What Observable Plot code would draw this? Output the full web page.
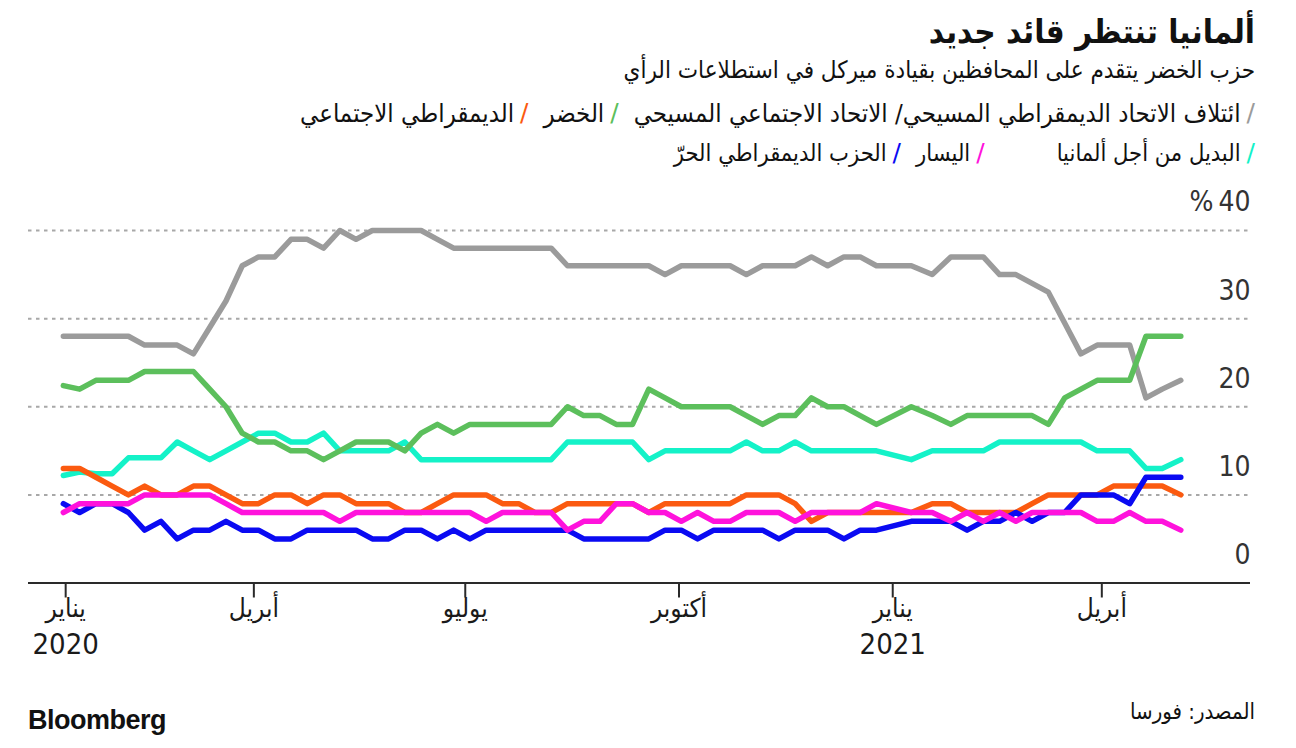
<!DOCTYPE html>
<html lang="ar">
<head>
<meta charset="utf-8">
<script src="https://cdn.jsdelivr.net/npm/d3@7"></script>
<script src="https://cdn.jsdelivr.net/npm/@observablehq/plot@0.6"></script>
<style>
html,body{margin:0;padding:0;background:#fff;}
body{width:1296px;height:748px;position:relative;overflow:hidden;font-family:"DejaVu Sans Condensed","DejaVu Sans",sans-serif;color:#111;}
.abs{position:absolute;}
#title{right:41px;top:12px;height:40px;line-height:40px;font-size:33px;font-weight:bold;direction:rtl;white-space:nowrap;}
#subtitle{right:41px;top:55px;height:30px;line-height:30px;font-size:24px;direction:rtl;white-space:nowrap;}
.legend{right:41px;height:30px;line-height:30px;direction:rtl;display:flex;align-items:center;white-space:nowrap;}
#legend1{font-size:25.5px;}
#legend2{font-size:23.5px;}
.item{display:flex;align-items:center;margin-left:15px;}
.slash{font-size:25px;margin-left:6px;font-family:"DejaVu Sans",sans-serif;}
#chart{left:0;top:180px;}
#source{right:41px;top:699px;height:26px;line-height:26px;font-size:22px;direction:rtl;white-space:nowrap;}
#brand{left:28px;top:705px;font-family:"Liberation Sans Narrow","Liberation Sans",Arial,sans-serif;font-weight:bold;font-size:27px;letter-spacing:-0.5px;}
</style>
</head>
<body>
<div id="title" class="abs">ألمانيا تنتظر قائد جديد</div>
<div id="subtitle" class="abs">حزب الخضر يتقدم على المحافظين بقيادة ميركل في استطلاعات الرأي</div>
<div id="legend1" class="abs legend" style="top:98px"></div>
<div id="legend2" class="abs legend" style="top:138px"></div>
<div id="chart" class="abs"></div>
<div id="source" class="abs">المصدر: فورسا</div>
<div id="brand" class="abs">Bloomberg</div>
<script>
// Poll dates (Forsa)
const dates = [
 "2020-01-10","2020-01-17","2020-01-24","2020-01-31","2020-02-07","2020-02-14","2020-02-21","2020-02-28",
 "2020-03-06","2020-03-13","2020-03-20","2020-03-27","2020-04-03","2020-04-10","2020-04-17","2020-04-24",
 "2020-05-01","2020-05-08","2020-05-15","2020-05-22","2020-05-29","2020-06-05","2020-06-12","2020-06-19",
 "2020-06-26","2020-07-03","2020-07-10","2020-07-17","2020-07-24","2020-07-31","2020-08-07","2020-08-14",
 "2020-08-21","2020-08-28","2020-09-04","2020-09-11","2020-09-18","2020-09-25","2020-10-02","2020-10-09",
 "2020-10-16","2020-10-23","2020-10-30","2020-11-06","2020-11-13","2020-11-20","2020-11-27","2020-12-04",
 "2020-12-11","2020-12-18","2020-12-25",
 "2021-01-09","2021-01-18","2021-01-26","2021-02-02","2021-02-09","2021-02-16","2021-02-23","2021-03-02",
 "2021-03-09","2021-03-16","2021-03-23","2021-03-30","2021-04-06","2021-04-13","2021-04-20","2021-04-27",
 "2021-05-05"
];

// Series values (%)
const union = [28,28,28,28,28,27,27,27,26,29,32,36,37,37,39,39,38,40,39,40,40,40,40,39,38,38,38,38,38,38,38,36,36,36,36,36,36,35,36,36,36,36,35,36,36,36,37,36,37,37,36,
 36,35,37,37,37,35,35,34,33,29.5,26,27,27,27,21,22,23];
const greens = [22.4,22,23,23,23,24,24,24,24,22,20,17,16,16,15,15,14,15,16,16,16,15,17,18,17,18,18,18,18,18,18,20,19,19,18,18,22,21,20,20,20,20,19,18,19,19,21,20,20,19,18,
 20,19,18,19,19,19,19,19,18,21,22,23,23,23,28,28,28];
const spd = [13,13,12,11,10,11,10,10,11,11,10,9,9,10,10,9,10,10,9,9,9,8,8,9,10,10,10,9,9,8,8,9,9,9,9,9,8,9,9,9,9,9,10,10,10,9,7,8,8,8,8,
 8,9,9,8,8,8,8,9,10,10,10,10,11,11,11,11,10];
const afd = [12.2,12.6,12.4,12.4,14.2,14.2,14.2,16,15,14,15,16,17,17,16,16,17,15,15,15,15,16,14,14,14,14,14,14,14,14,14,16,16,16,16,16,14,15,15,15,15,15,16,15,15,16,15,15,15,15,15,
 14,15,15,15,15,16,16,16,16,16,16,15,15,15,13,13,14];
const left = [8,9,9,9,9,10,10,10,10,10,9,8,8,8,8,8,8,7,8,8,8,8,8,8,8,8,7,8,8,8,8,6,7,7,9,9,8,8,7,8,7,7,8,8,8,7,8,8,8,8,9,
 8,8,7,8,7,8,7,8,8,8,8,7,7,8,7,7,6];
const fdp = [9,8,9,9,8,6,7,5,6,6,7,6,6,5,5,6,6,6,6,5,5,6,6,5,6,5,6,6,6,6,6,6,5,5,5,5,5,6,6,5,6,6,6,6,5,6,6,6,5,6,6,
 7,7,7,6,7,7,8,7,8,8,10,10,10,9,12,12,12];

// Party names (legend order) and colours
const partyNames = [
 "ائتلاف الاتحاد الديمقراطي المسيحي/ الاتحاد الاجتماعي المسيحي",
 "الخضر",
 "الديمقراطي الاجتماعي",
 "البديل من أجل ألمانيا",
 "اليسار",
 "الحزب الديمقراطي الحرّ"
];
const partyColors = ["#9b9b9b","#5cbf5c","#fb5a10","#14f2c8","#ff12dc","#0a0af2"];
const partyValues = [union, greens, spd, afd, left, fdp];
const drawOrder = [0, 3, 1, 2, 5, 4];

// Axis ticks
const tickDates = ["2020-01-11","2020-04-01","2020-07-01","2020-10-01","2021-01-01","2021-04-01"];
const monthLabels = ["يناير","أبريل","يوليو","أكتوبر","يناير","أبريل"];
const yearLabels = ["2020","","","","2021",""];
const yTicks = [0,10,20,30,40];
const yTickLabels = ["0","10","20","30","%\u200940"];
const gridValues = [10,20,30,40];

const parse = d3.utcParse("%Y-%m-%d");
const data = drawOrder.flatMap(p => partyValues[p].map((v, i) => ({date: parse(dates[i]), value: v, party: partyNames[p]})));
const ticks = tickDates.map(parse);

// Legend
const rows = [[0,1,2],[3,4,5]];
rows.forEach((r, ri) => {
  const el = document.getElementById("legend" + (ri + 1));
  r.forEach((p, j) => {
    const it = document.createElement("span");
    it.className = "item";
    if (ri === 1 && j === 0) it.style.marginLeft = "72px";
    const s = document.createElement("span");
    s.className = "slash"; s.style.color = partyColors[p]; s.textContent = "/";
    const t = document.createElement("span");
    t.textContent = partyNames[p];
    it.appendChild(s); it.appendChild(t);
    el.appendChild(it);
  });
});

const chart = Plot.plot({
  width: 1296,
  height: 500,
  marginTop: 50,
  marginBottom: 97.5,
  marginLeft: 28,
  marginRight: 46,
  style: {fontFamily: "'DejaVu Sans Condensed','DejaVu Sans',sans-serif", background: "transparent", overflow: "visible"},
  x: {type: "utc", domain: [parse("2019-12-26"), parse("2021-06-04")]},
  y: {domain: [0, 40], axis: null},
  color: {domain: partyNames, range: partyColors},
  marks: [
    Plot.ruleY(gridValues, {stroke: "#a8a8a8", strokeWidth: 2, strokeDasharray: "3.5,4.5"}),
    Plot.ruleY([0], {stroke: "#2a2a2a", strokeWidth: 2}),
    Plot.axisX(ticks, {tickSize: 15, tickFormat: () => "", stroke: "#2a2a2a", strokeWidth: 2, label: null}),
    Plot.text(ticks, {x: d => d, text: (d, i) => monthLabels[i], frameAnchor: "bottom", dy: 34, fontSize: 26, fill: "#1a1a1a"}),
    Plot.text(ticks, {x: d => d, text: (d, i) => yearLabels[i], frameAnchor: "bottom", dy: 71, fontSize: 29, fill: "#1a1a1a"}),
    Plot.text(yTicks, {y: d => d, text: (d, i) => yTickLabels[i], frameAnchor: "right", textAnchor: "end", dy: -28, fontSize: 28, fill: "#333"}),
    Plot.line(data, {x: "date", y: "value", z: "party", stroke: "party", strokeWidth: 5.5, strokeLinejoin: "round", strokeLinecap: "round"})
  ]
});
document.getElementById("chart").appendChild(chart);
</script>
</body>
</html>
